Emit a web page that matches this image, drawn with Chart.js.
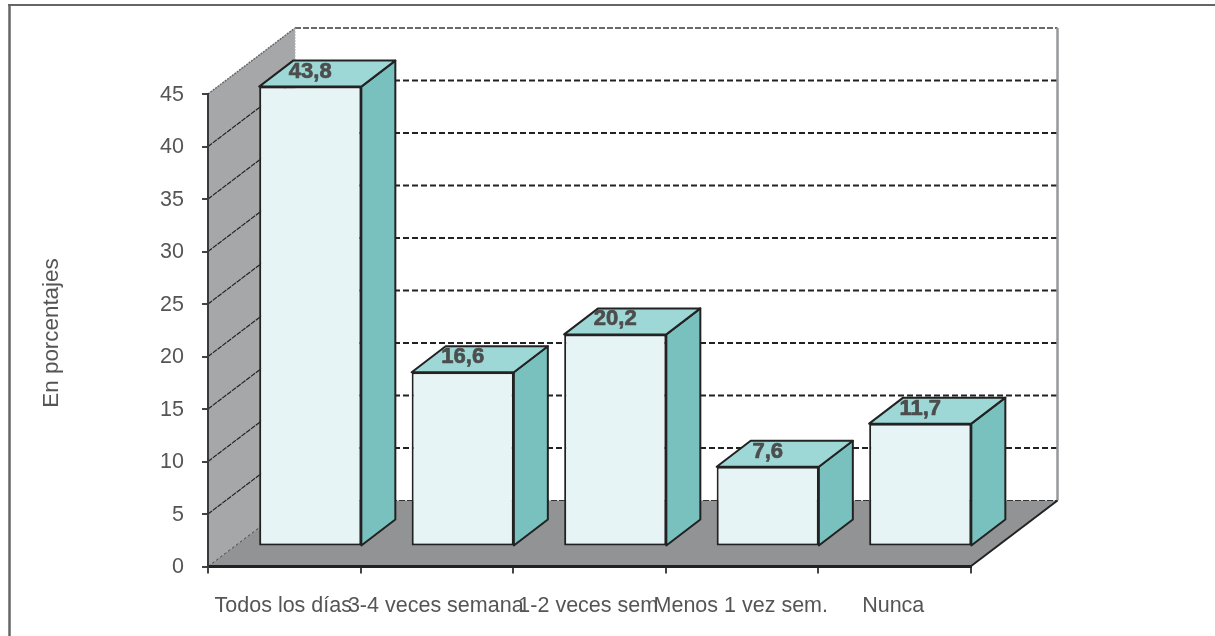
<!DOCTYPE html>
<html>
<head>
<meta charset="utf-8">
<title>En porcentajes</title>
<script src="https://cdn.jsdelivr.net/npm/chart.js@4"></script>
<style>
body { margin: 0; background: #fff; }
canvas { display: block; }
</style>
</head>
<body>
<canvas id="chart" width="1215" height="636"></canvas>
<script>
const categories = ['Todos los días', '3-4 veces semana', '1-2 veces sem', 'Menos 1 vez sem.', 'Nunca'];
const percentages = [43.8, 16.6, 20.2, 7.6, 11.7];
const axisTitle = 'En porcentajes';

// 3D look: how far the back wall and the bars sit from the axes, in px
const wallDepth = { x: 87, y: -66 };
const barShift = { x: 26, y: -20 };
const barDepth = { x: 34, y: -26 };

const edge = '#222222';
const textColor = '#555555';
const fontFamily = '"Liberation Sans", Arial, sans-serif';

function poly(ctx, pts, fill, stroke, lineWidth) {
    ctx.beginPath();
    pts.forEach((p, i) => i ? ctx.lineTo(p[0], p[1]) : ctx.moveTo(p[0], p[1]));
    ctx.closePath();
    if (fill) { ctx.fillStyle = fill; ctx.fill(); }
    if (stroke) { ctx.strokeStyle = stroke; ctx.lineWidth = lineWidth; ctx.stroke(); }
}

function line(ctx, x1, y1, x2, y2, color, width, dash) {
    ctx.save();
    ctx.beginPath();
    ctx.setLineDash(dash || []);
    ctx.moveTo(x1, y1);
    ctx.lineTo(x2, y2);
    ctx.strokeStyle = color;
    ctx.lineWidth = width;
    ctx.stroke();
    ctx.restore();
}

const fake3d = {
    id: 'fake3d',
    beforeDraw(chart) {
        // frame of the original picture, only top and left are visible
        const ctx = chart.ctx;
        line(ctx, 8, 5, 1215, 5, '#666666', 2);
        line(ctx, 9.5, 5, 9.5, 636, '#666666', 2.5);

        // axis title sits a little below the middle of the axis in the original
        ctx.save();
        ctx.translate(52, 333);
        ctx.rotate(-Math.PI / 2);
        ctx.font = '22.4px ' + fontFamily;
        ctx.fillStyle = textColor;
        ctx.textAlign = 'center';
        ctx.textBaseline = 'middle';
        ctx.fillText(axisTitle, 0, 0);
        ctx.restore();
    },
    beforeDatasetsDraw(chart) {
        const ctx = chart.ctx;
        const { left, right, top, bottom } = chart.chartArea;
        const dx = wallDepth.x, dy = wallDepth.y;

        // left wall and floor
        poly(ctx, [[left, top], [left + dx, top + dy], [left + dx, bottom + dy], [left, bottom]], '#a6a7a9');
        poly(ctx, [[left, bottom], [left + dx, bottom + dy], [right + dx, bottom + dy], [right, bottom]], '#929395');

        // grid lines run over the left wall and along the back wall
        chart.scales.y.ticks.forEach(t => {
            const y = chart.scales.y.getPixelForValue(t.value);
            if (t.value === 45) {
                line(ctx, left, y, left + dx, y + dy, '#6a6a6c', 1.5, [2, 1]);
                line(ctx, left + dx, y + dy, right + dx, y + dy, '#6a6a6c', 2, [6, 2]);
            } else if (t.value === 0) {
                line(ctx, left, y, left + dx, y + dy, '#444444', 1, [3, 2]);
                line(ctx, left + dx, y + dy, right + dx, y + dy, '#333333', 1.2, [6, 2]);
            } else {
                line(ctx, left, y, left + dx, y + dy, '#222222', 1.2, [5, 1]);
                line(ctx, left + dx, y + dy, right + dx, y + dy, '#222222', 2, [6, 3]);
            }
        });
        line(ctx, left + dx, top + dy, left + dx, bottom + dy, '#b5b6b8', 1, [2, 1]);
        line(ctx, right + dx, top + dy, right + dx, bottom + dy, '#97989a', 2.5);
        line(ctx, right, bottom, right + dx, bottom + dy, edge, 2);

        // bars are drawn by the library, moved into the middle of the depth
        ctx.save();
        ctx.translate(barShift.x, barShift.y);
    },
    afterDatasetsDraw(chart) {
        const ctx = chart.ctx;
        ctx.restore();
        const dx = barDepth.x, dy = barDepth.y;
        chart.getDatasetMeta(0).data.forEach((bar, i) => {
            const l = bar.x - bar.width / 2 + barShift.x;
            const r = bar.x + bar.width / 2 + barShift.x;
            const t = bar.y + barShift.y;
            const b = bar.base + barShift.y;
            ctx.lineJoin = 'round';
            poly(ctx, [[r, t], [r + dx, t + dy], [r + dx, b + dy], [r, b]], '#79c1be', edge, 2);
            poly(ctx, [[l, t], [l + dx, t + dy], [r + dx, t + dy], [r, t]], '#9dd8d6', edge, 2);

            // the original labels look overprinted, a thin stroke gets close
            const label = String(percentages[i]).replace('.', ',');
            ctx.font = 'bold 22px ' + fontFamily;
            ctx.fillStyle = '#4d4d4d';
            ctx.strokeStyle = '#4d4d4d';
            ctx.lineWidth = 0.7;
            ctx.textAlign = 'center';
            ctx.textBaseline = 'middle';
            ctx.fillText(label, bar.x + barShift.x, t - 15);
            ctx.strokeText(label, bar.x + barShift.x, t - 15);
        });
    }
};

new Chart(document.getElementById('chart'), {
    type: 'bar',
    data: {
        labels: categories,
        datasets: [{
            data: percentages,
            backgroundColor: '#e6f4f5',
            borderColor: edge,
            borderWidth: 2,
            borderSkipped: false,
            barPercentage: 0.67,
            categoryPercentage: 1,
            clip: false
        }]
    },
    options: {
        responsive: false,
        animation: false,
        layout: { padding: { top: 94, right: 244.5, bottom: 0, left: 0 } },
        plugins: { legend: { display: false }, tooltip: { enabled: false } },
        scales: {
            x: {
                afterFit(scale) { scale.height = 69.5; },
                grid: { drawOnChartArea: false, color: '#444444', lineWidth: 2, tickLength: 7, z: 1 },
                border: { color: edge, width: 3, z: 1 },
                ticks: {
                    color: textColor,
                    autoSkip: false,
                    maxRotation: 0,
                    minRotation: 0,
                    padding: 20,
                    labelOffset: -1,
                    font: { family: fontFamily, size: 21.5 }
                }
            },
            y: {
                min: 0,
                max: 45,
                afterFit(scale) { scale.width = 208; },
                grid: { drawOnChartArea: false, color: '#444444', lineWidth: 2, tickLength: 6, z: 1 },
                border: { color: '#3a3a3a', width: 2, z: 1 },
                ticks: {
                    stepSize: 5,
                    color: textColor,
                    padding: 18,
                    labelOffset: 1,
                    font: { family: fontFamily, size: 21.5 }
                }
            }
        }
    },
    plugins: [fake3d]
});
</script>
</body>
</html>
